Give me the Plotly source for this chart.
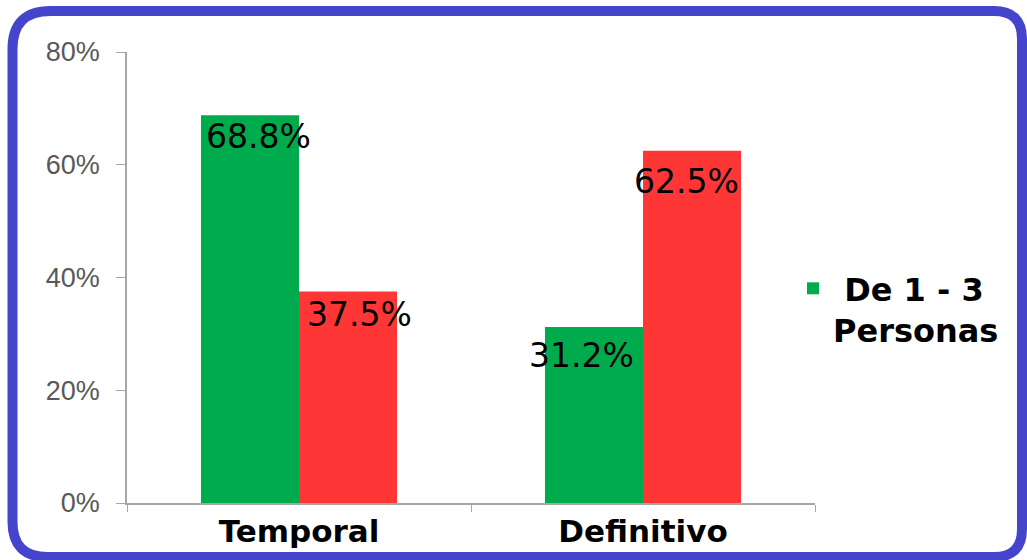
import plotly.graph_objects as go

categories = ["Temporal", "Definitivo"]
serie_1_3 = [68.8, 31.2]
serie_otros = [37.5, 62.5]
labels_1_3 = ["68.8%", "31.2%"]
labels_otros = ["37.5%", "62.5%"]
y_ticks = [0, 20, 40, 60, 80]
y_tick_labels = ["0%", "20%", "40%", "60%", "80%"]

# label placement tweaks (pixels): horizontal shift from bar centre, drop below bar top
dx_1_3, dy_1_3 = [9, -12], [21, 28]
dx_otros, dy_otros = [11, -6], [23, 31]

W, H = 1027, 560
PL, PR, PT, PB = 127, 815, 52, 503          # plot area in pixels
ML, MR, MT, MB = PL, W - PR, PT, H - PB
PW, PH = PR - PL, PB - PT

def px(xp):
    return (xp - PL) / PW

def py(yp):
    return (PB - yp) / PH

GREEN = "#00AB4E"
RED = "#FF3636"
FONT = "Liberation Sans, Arial, sans-serif"
WIDE = "DejaVu Sans, Verdana, sans-serif"

fig = go.Figure()
fig.add_trace(go.Bar(x=categories, y=serie_1_3, name="\u00a0De 1 - 3<br>Personas",
                     marker=dict(color=GREEN, line=dict(width=0))))
fig.add_trace(go.Bar(x=categories, y=serie_otros, name="Más de 3 Personas",
                     marker=dict(color=RED, line=dict(width=0)), showlegend=False))

bargap = 0.43
bw = (1 - bargap) / 2
for i, (v, t) in enumerate(zip(serie_1_3, labels_1_3)):
    fig.add_annotation(x=i - bw / 2, y=v, text=t, showarrow=False, xref="x", yref="y",
                       yanchor="middle", yshift=-dy_1_3[i], xshift=dx_1_3[i],
                       font=dict(family=WIDE, size=33, color="black"))
for i, (v, t) in enumerate(zip(serie_otros, labels_otros)):
    fig.add_annotation(x=i + bw / 2, y=v, text=t, showarrow=False, xref="x", yref="y",
                       yanchor="middle", yshift=-dy_otros[i], xshift=dx_otros[i],
                       font=dict(family=WIDE, size=33, color="black"))

# rounded border
x0, y0, x1, y1 = 12.5, 11, 1022, 557
r_tl, r_tr, r_br, r_bl = 38, 28, 28, 35
path = (f"M {px(x0)},{py(y0 + r_tl)} "
        f"Q {px(x0)},{py(y0)} {px(x0 + r_tl)},{py(y0)} "
        f"L {px(x1 - r_tr)},{py(y0)} "
        f"Q {px(x1)},{py(y0)} {px(x1)},{py(y0 + r_tr)} "
        f"L {px(x1)},{py(y1 - r_br)} "
        f"Q {px(x1)},{py(y1)} {px(x1 - r_br)},{py(y1)} "
        f"L {px(x0 + r_bl)},{py(y1)} "
        f"Q {px(x0)},{py(y1)} {px(x0)},{py(y1 - r_bl)} Z")
fig.add_shape(type="path", path=path, xref="paper", yref="paper",
              line=dict(color="#4444CC", width=10), layer="above")

fig.update_layout(
    width=W, height=H,
    margin=dict(l=ML, r=MR, t=MT, b=MB, pad=0, autoexpand=False),
    paper_bgcolor="white", plot_bgcolor="white",
    barmode="group", bargap=bargap, bargroupgap=0,
    font=dict(family=FONT),
    showlegend=True,
    legend=dict(x=px(793), y=py(261), xanchor="left", yanchor="top",
                font=dict(family=WIDE, size=32, color="black", weight="bold"),
                valign="top", bgcolor="rgba(0,0,0,0)", itemwidth=30),
    xaxis=dict(showline=True, linecolor="#A6A6A6", linewidth=1.5, automargin=False,
               ticks="outside", tickson="boundaries", ticklen=7, tickcolor="#A6A6A6",
               tickfont=dict(family=WIDE, size=31, color="black", weight="bold"),
               showgrid=False, zeroline=False),
    yaxis=dict(range=[0, 80], tickvals=y_ticks, ticktext=y_tick_labels, automargin=False,
               showline=True, linecolor="#A6A6A6", linewidth=1.5,
               ticks="outside", ticklen=9, tickcolor="#A6A6A6", ticklabelstandoff=11,
               tickfont=dict(family=FONT, size=27, color="#595959"),
               showgrid=False, zeroline=False),
)

fig.write_html("out.html", config={"displayModeBar": False},
               post_script="document.body.style.margin='0';document.body.style.overflow='hidden';")
